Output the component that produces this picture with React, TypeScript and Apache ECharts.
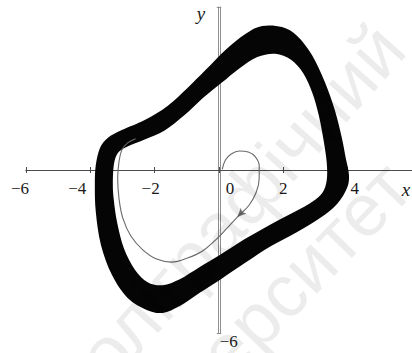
import React, { useEffect, useRef } from 'react';
import * as echarts from 'echarts';

// Outer edge of the dense attractor bundle (x, y)
const bandOuter: [number, number][] = [
  [-3.86, -0.55], [-3.83, 0.18], [-3.7, 0.81], [-3.46, 1.18], [-3.02, 1.47],
  [-2.31, 1.84], [-1.6, 2.36], [-0.98, 3.02], [-0.42, 3.68], [0.2, 4.42],
  [0.82, 5.01], [1.34, 5.3], [1.96, 5.26], [2.43, 4.93], [2.89, 4.23],
  [3.29, 3.24], [3.6, 2.21], [3.82, 1.18], [3.94, 0.44], [4.04, -0.18],
  [3.98, -0.66], [3.67, -1.25], [3.14, -1.77], [2.43, -2.28], [1.62, -2.8],
  [0.85, -3.39], [0.07, -4.01], [-0.61, -4.53], [-1.22, -5.01], [-1.75, -5.26],
  [-2.25, -5.15], [-2.84, -4.71], [-3.33, -3.86], [-3.67, -2.76], [-3.83, -1.55],
];

// Inner edge of the same bundle
const bandInner: [number, number][] = [
  [-3.3, -0.55], [-3.27, 0.18], [-3.15, 0.62], [-2.86, 0.86], [-2.31, 1.12],
  [-1.69, 1.45], [-1.07, 2.02], [-0.51, 2.64], [0.07, 3.2], [0.63, 3.74],
  [1.19, 4.16], [1.75, 4.28], [2.24, 4.06], [2.62, 3.56], [2.9, 2.84],
  [3.1, 2.02], [3.25, 1.1], [3.35, 0.26], [3.35, -0.37], [3.22, -0.83],
  [2.9, -1.17], [2.34, -1.55], [1.56, -2.03], [0.79, -2.55], [0.01, -3.14],
  [-0.61, -3.58], [-1.22, -4.02], [-1.75, -4.24], [-2.22, -4.13], [-2.62, -3.66],
  [-2.96, -2.87], [-3.17, -1.91], [-3.27, -1.1],
];

// Transient trajectory leaving the origin and winding onto the attractor
const transient: [number, number][] = [
  [0.1, 0.02], [0.2, 0.37], [0.38, 0.59], [0.63, 0.7], [0.91, 0.66],
  [1.13, 0.48], [1.25, 0.15], [1.25, -0.29], [1.16, -0.81], [0.94, -1.29],
  [0.63, -1.66], [0.26, -2.13], [-0.11, -2.58], [-0.51, -2.98], [-0.98, -3.24],
  [-1.47, -3.39], [-1.94, -3.28], [-2.37, -2.94], [-2.74, -2.43], [-2.99, -1.77],
  [-3.11, -1.03], [-3.15, -0.29], [-3.11, 0.29], [-3.02, 0.74], [-2.84, 1.0],
  [-2.59, 1.15],
];

// Direction marker on the transient
const arrowAt: [number, number] = [0.57, -1.73];

const xTicks = [-6, -4, -2, 0, 2, 4];
const xTickLabels = ['\u22126', '\u22124', '\u22122', '0', '2', '4'];
const xLabelShift = [-6, -13, -4, 11, 0, 7];
const yTickLabel = '\u22126';

const serif = "'Liberation Serif', 'Times New Roman', serif";
const sans = "'Liberation Sans', Arial, sans-serif";

// Plot frame: x and y both span -6..6
const GRID = { left: 26, top: 7, width: 387.6, height: 326 };
const X_AXIS_SHIFT = -GRID.height / 2;
const Y_AXIS_SHIFT = -GRID.width / 2;

// Closed Catmull-Rom curve through pixel points, as SVG path data
function closedCurve(pts: number[][]): string {
  const n = pts.length;
  let d = `M${pts[0][0]},${pts[0][1]}`;
  for (let i = 0; i < n; i++) {
    const p0 = pts[(i - 1 + n) % n];
    const p1 = pts[i];
    const p2 = pts[(i + 1) % n];
    const p3 = pts[(i + 2) % n];
    const c1x = p1[0] + (p2[0] - p0[0]) / 6;
    const c1y = p1[1] + (p2[1] - p0[1]) / 6;
    const c2x = p2[0] - (p3[0] - p1[0]) / 6;
    const c2y = p2[1] - (p3[1] - p1[1]) / 6;
    d += `C${c1x},${c1y},${c2x},${c2y},${p2[0]},${p2[1]}`;
  }
  return d + 'Z';
}

export default function App() {
  const ref = useRef<HTMLDivElement>(null);

  useEffect(() => {
    if (!ref.current) return;
    const chart = echarts.init(ref.current, null, { renderer: 'svg' });

    const rich: Record<string, any> = {};
    xTicks.forEach((_, i) => {
      const s = xLabelShift[i];
      rich['s' + i] = {
        fontFamily: serif,
        fontSize: 17,
        color: '#1a1a1a',
        padding: s >= 0 ? [0, 0, 0, 2 * s] : [0, -2 * s, 0, 0],
      };
    });

    const axisCommon = {
      type: 'value' as const,
      min: -6,
      max: 6,
      splitLine: { show: false },
    };

    chart.setOption({
      animation: false,
      grid: { ...GRID, containLabel: false },
      xAxis: [
        {
          ...axisCommon,
          interval: 2,
          position: 'bottom',
          offset: X_AXIS_SHIFT,
          axisLine: { onZero: false, lineStyle: { color: '#4a4a4a', width: 1 } },
          axisTick: { show: true, length: 3, lineStyle: { color: '#4a4a4a' } },
          axisLabel: {
            margin: 10,
            showMaxLabel: false,
            formatter: (v: number) => {
              const i = xTicks.indexOf(v);
              return i < 0 ? '' : `{s${i}|${xTickLabels[i]}}`;
            },
            rich,
          },
        },
        {
          ...axisCommon,
          interval: 2,
          position: 'top',
          offset: X_AXIS_SHIFT,
          axisLine: { onZero: false, lineStyle: { color: '#4a4a4a', width: 1 } },
          axisTick: { show: true, length: 3, lineStyle: { color: '#4a4a4a' } },
          axisLabel: { show: false },
        },
      ],
      yAxis: [
        {
          ...axisCommon,
          interval: 12,
          position: 'left',
          offset: Y_AXIS_SHIFT,
          axisLine: { onZero: false, lineStyle: { color: '#8e8e8e', width: 1 } },
          axisTick: { show: true, length: 3, lineStyle: { color: '#8e8e8e' } },
          axisLabel: {
            margin: -9,
            align: 'center',
            verticalAlign: 'top',
            fontFamily: serif,
            fontSize: 17,
            color: '#1a1a1a',
            formatter: (v: number) => (v === -6 ? yTickLabel : ''),
          },
        },
        {
          ...axisCommon,
          interval: 12,
          position: 'right',
          offset: Y_AXIS_SHIFT,
          axisLine: { onZero: false, lineStyle: { color: '#8e8e8e', width: 1 } },
          axisTick: { show: true, length: 3, lineStyle: { color: '#8e8e8e' } },
          axisLabel: { show: false },
        },
      ],
      graphic: [
        {
          type: 'text', x: 201, y: 13, z: 50,
          style: { text: 'y', font: `italic 19px ${serif}`, fill: '#1a1a1a', align: 'center', verticalAlign: 'middle' },
        },
        {
          type: 'text', x: 406, y: 189, z: 50,
          style: { text: 'x', font: `italic 19px ${serif}`, fill: '#1a1a1a', align: 'center', verticalAlign: 'middle' },
        },
        {
          type: 'text', x: 418, y: 60, rotation: 0.84, z: 100, silent: true,
          style: {
            text: 'поліграфічний', font: `74px ${sans}`,
            fill: '#000', opacity: 0.075, align: 'right', verticalAlign: 'bottom',
          },
        },
        {
          type: 'text', x: 424, y: 200, rotation: 0.8, z: 100, silent: true,
          style: {
            text: 'університет', font: `74px ${sans}`,
            fill: '#000', opacity: 0.075, align: 'right', verticalAlign: 'bottom',
          },
        },
      ],
      series: [
        {
          type: 'custom',
          xAxisIndex: 0,
          yAxisIndex: 0,
          z: 2,
          silent: true,
          data: [[0, 0]],
          renderItem: (_p: any, api: any) => {
            const outer = bandOuter.map((p) => api.coord(p));
            const inner = bandInner.map((p) => api.coord(p)).reverse();
            return {
              type: 'path',
              shape: { pathData: closedCurve(outer) + closedCurve(inner) },
              style: { fill: '#050505', stroke: null },
            };
          },
        },
        {
          type: 'line',
          xAxisIndex: 0,
          yAxisIndex: 0,
          z: 3,
          data: transient,
          smooth: 0.4,
          showSymbol: false,
          silent: true,
          lineStyle: { color: '#6a6a6a', width: 1.1 },
        },
        {
          type: 'scatter',
          xAxisIndex: 0,
          yAxisIndex: 0,
          z: 4,
          data: [arrowAt],
          symbol: 'arrow',
          symbolSize: [6, 9],
          symbolRotate: 135,
          silent: true,
          itemStyle: { color: '#555' },
        },
      ],
    });

    return () => chart.dispose();
  }, []);

  return (
    <div
      ref={ref}
      style={{ position: 'fixed', left: 0, top: 0, width: 412, height: 353, background: '#fff' }}
    />
  );
}
